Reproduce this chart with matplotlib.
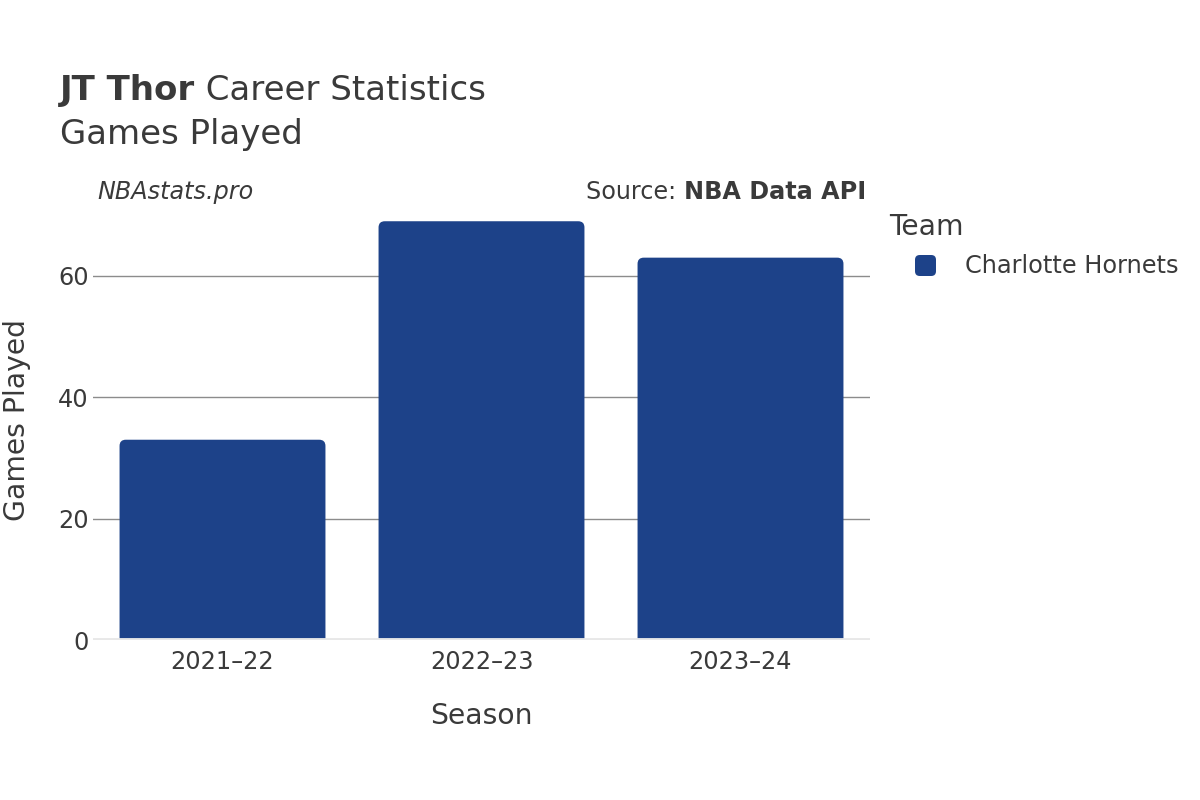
import matplotlib
matplotlib.use('agg')
import matplotlib.pyplot as plt
from matplotlib.patches import FancyBboxPatch

seasons = ['2021–22', '2022–23', '2023–24']
games = [33, 69, 63]
team = 'Charlotte Hornets'
bar_color = '#1d4289'
text_color = '#3a3a3a'

plt.rcParams['font.family'] = ['DejaVu Sans']

fig = plt.figure(figsize=(12, 8), dpi=100)
ax = fig.add_axes([0.0775, 0.2, 0.6475, 0.55])

x = list(range(len(seasons)))
ax.set_xlim(-0.5, len(seasons) - 0.5)
ax.set_ylim(0, 72.5)

# rounded bars: compute aspect so corners look round in pixels
px_per_x = 0.6475 * 1200 / 3.0
px_per_y = 0.55 * 800 / 72.5
aspect = px_per_x / px_per_y
bars = ax.bar(x, games, width=0.795, color=bar_color, alpha=0)
for b in bars:
    p = FancyBboxPatch((b.get_x(), -3), b.get_width(), b.get_height() + 3,
                       boxstyle='round,pad=0,rounding_size=0.024',
                       mutation_aspect=aspect, facecolor=bar_color,
                       edgecolor='none', zorder=2)
    ax.add_patch(p)

ax.set_yticks([0, 20, 40, 60])
ax.grid(axis='y', color='#8c8c8c', linewidth=1, zorder=0)
ax.axhline(0, color='#e8e8e8', linewidth=3.5, zorder=3)
for s in ax.spines.values():
    s.set_visible(False)
ax.set_xticks(x)
ax.set_xticklabels(seasons)
ax.tick_params(axis='both', length=0, labelsize=17.3, colors=text_color, pad=7)
ax.tick_params(axis='y', pad=3)

ax.set_xlabel('Season', fontsize=20.3, color=text_color, labelpad=20)
fig.text(17 / 1200, 1 - 420 / 800, 'Games Played', rotation=90, fontsize=20.3,
         color=text_color, ha='center', va='center')

# title
t1 = fig.text(60 / 1200, 1 - 100 / 800, 'JT Thor', fontsize=24.5, fontweight='bold',
              color=text_color, va='baseline')
fig.canvas.draw()
bb = t1.get_window_extent()
fig.text(bb.x1 / 1200, 1 - 100 / 800, ' Career Statistics', fontsize=24.5,
         color=text_color, va='baseline')
fig.text(60 / 1200, 1 - 144 / 800, 'Games Played', fontsize=24.5,
         color=text_color, va='baseline')

fig.text(97 / 1200, 1 - 192 / 800, 'NBAstats.pro', fontsize=17.2, style='italic',
         color=text_color, va='center')
s2 = fig.text(866 / 1200, 1 - 192 / 800, 'NBA Data API', fontsize=17.2, fontweight='bold',
              color=text_color, va='center', ha='right')
fig.canvas.draw()
bb2 = s2.get_window_extent()
fig.text(bb2.x0 / 1200, 1 - 192 / 800, 'Source: ', fontsize=17.2,
         color=text_color, va='center', ha='right')

# legend
fig.text(889 / 1200, 1 - 227 / 800, 'Team', fontsize=20.3, color=text_color, va='center')
fig.patches.append(FancyBboxPatch((915 / 1200, 1 - 276 / 800), 21 / 1200, 21 / 800,
                                  boxstyle='round,pad=0,rounding_size=0.004',
                                  mutation_aspect=1.5, facecolor=bar_color,
                                  edgecolor='none', transform=fig.transFigure,
                                  figure=fig))
fig.text(965 / 1200, 1 - 266 / 800, team, fontsize=17.3, color=text_color, va='center')

plt.savefig('out.png', format='png')
plt.close()
